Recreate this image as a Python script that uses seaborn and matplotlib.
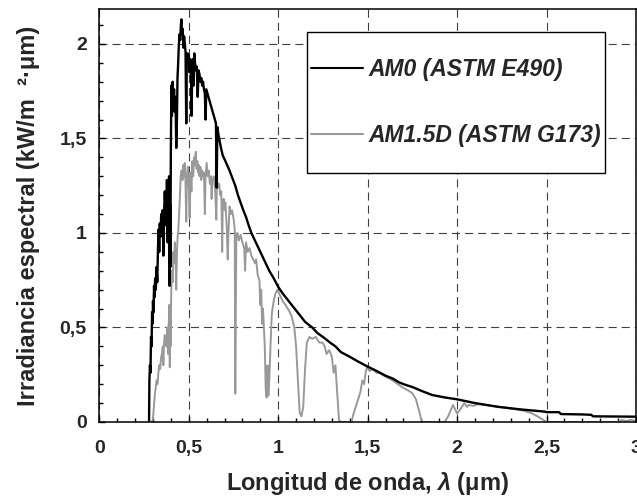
import seaborn as sns
import matplotlib.pyplot as plt
from matplotlib.patches import Rectangle
from matplotlib.ticker import MultipleLocator

# AM0 extraterrestrial spectrum (ASTM E490)
am0_wl = [0.278, 0.280, 0.283, 0.286, 0.289, 0.292, 0.295, 0.298, 0.300, 0.303,
          0.306, 0.309, 0.312, 0.316, 0.320, 0.324, 0.328, 0.332, 0.335, 0.338,
          0.342, 0.346, 0.350, 0.354, 0.358, 0.362, 0.366, 0.370, 0.374, 0.378,
          0.382, 0.386, 0.390, 0.393, 0.395, 0.397, 0.400, 0.403, 0.406, 0.410,
          0.414, 0.418, 0.422, 0.426, 0.430, 0.434, 0.437, 0.440, 0.444, 0.448,
          0.452, 0.456, 0.459, 0.462, 0.466, 0.470, 0.474, 0.478, 0.482, 0.486,
          0.489, 0.493, 0.497, 0.500, 0.504, 0.508, 0.512, 0.516, 0.519, 0.523,
          0.527, 0.531, 0.535, 0.540, 0.545, 0.550, 0.555, 0.560, 0.565, 0.570,
          0.575, 0.580, 0.585, 0.590, 0.594, 0.598, 0.604, 0.610, 0.616, 0.622,
          0.628, 0.634, 0.640, 0.646, 0.652, 0.656, 0.660, 0.666, 0.672, 0.680,
          0.690, 0.700, 0.714, 0.728, 0.744, 0.760, 0.775, 0.790, 0.805, 0.820,
          0.835, 0.850, 0.865, 0.880, 0.895, 0.910, 0.930, 0.950, 0.975, 1.000,
          1.025, 1.050, 1.075, 1.100, 1.125, 1.150, 1.170, 1.190, 1.220, 1.250,
          1.290, 1.320, 1.350, 1.400, 1.450, 1.500, 1.550, 1.600, 1.640, 1.675,
          1.710, 1.750, 1.800, 1.860, 1.930, 2.000, 2.100, 2.230, 2.350, 2.490,
          2.500, 2.570, 2.580, 2.700, 2.750, 2.760, 3.000]
am0_irr = [0.00, 0.22, 0.30, 0.26, 0.45, 0.40, 0.58, 0.52, 0.64, 0.58,
           0.72, 0.66, 0.76, 0.70, 0.82, 0.74, 0.92, 1.02, 0.90, 1.05,
           0.98, 1.10, 1.02, 1.12, 0.88, 1.10, 1.22, 1.12, 1.04, 1.28,
           0.95, 1.18, 1.30, 0.72, 1.15, 0.82, 1.45, 1.78, 1.62, 1.80,
           1.70, 1.76, 1.64, 1.72, 1.45, 1.60, 1.82, 1.88, 1.98, 2.05,
           2.02, 2.10, 2.13, 2.05, 2.08, 1.98, 2.04, 2.00, 1.96, 1.58,
           1.92, 1.95, 1.90, 1.94, 1.85, 1.92, 1.88, 1.62, 1.84, 1.92,
           1.78, 1.95, 1.90, 1.86, 1.88, 1.72, 1.86, 1.84, 1.80, 1.82,
           1.78, 1.80, 1.76, 1.74, 1.60, 1.76, 1.74, 1.72, 1.70, 1.68,
           1.66, 1.64, 1.62, 1.60, 1.58, 1.24, 1.56, 1.52, 1.49, 1.45,
           1.41, 1.39, 1.36, 1.33, 1.29, 1.25, 1.20, 1.16, 1.12, 1.085,
           1.04, 1.00, 0.97, 0.94, 0.91, 0.88, 0.84, 0.80, 0.76, 0.715,
           0.68, 0.65, 0.62, 0.59, 0.56, 0.53, 0.515, 0.50, 0.47, 0.45,
           0.42, 0.40, 0.37, 0.345, 0.318, 0.293, 0.27, 0.245, 0.23, 0.21,
           0.197, 0.185, 0.165, 0.143, 0.13, 0.12, 0.10, 0.08, 0.067, 0.055,
           0.052, 0.052, 0.042, 0.040, 0.038, 0.030, 0.028]

# AM1.5D direct normal spectrum (ASTM G173)
am15d_wl = [0.295, 0.300, 0.305, 0.310, 0.315, 0.320, 0.325, 0.330, 0.335, 0.340,
            0.345, 0.350, 0.355, 0.358, 0.362, 0.366, 0.370, 0.375, 0.380, 0.384,
            0.388, 0.392, 0.394, 0.396, 0.398, 0.402, 0.406, 0.410, 0.414, 0.418,
            0.422, 0.426, 0.430, 0.434, 0.438, 0.442, 0.446, 0.450, 0.455, 0.460,
            0.465, 0.470, 0.475, 0.478, 0.482, 0.486, 0.490, 0.495, 0.500, 0.505,
            0.510, 0.515, 0.520, 0.525, 0.530, 0.535, 0.539, 0.544, 0.548, 0.552,
            0.556, 0.560, 0.565, 0.570, 0.575, 0.580, 0.585, 0.590, 0.594, 0.600,
            0.606, 0.612, 0.618, 0.624, 0.628, 0.632, 0.640, 0.648, 0.654, 0.658,
            0.664, 0.670, 0.676, 0.682, 0.687, 0.690, 0.695, 0.700, 0.705, 0.712,
            0.718, 0.722, 0.728, 0.735, 0.742, 0.750, 0.757, 0.760, 0.763, 0.766,
            0.772, 0.780, 0.790, 0.800, 0.810, 0.815, 0.820, 0.830, 0.840, 0.850,
            0.860, 0.870, 0.877, 0.885, 0.895, 0.900, 0.905, 0.910, 0.915, 0.925,
            0.930, 0.935, 0.940, 0.945, 0.950, 0.955, 0.960, 0.965, 0.975, 0.985,
            0.996, 1.010, 1.025, 1.040, 1.060, 1.075, 1.090, 1.100, 1.110, 1.120,
            1.130, 1.140, 1.150, 1.160, 1.175, 1.190, 1.210, 1.230, 1.247, 1.260,
            1.270, 1.285, 1.300, 1.310, 1.320, 1.330, 1.340, 1.350, 1.410, 1.420,
            1.440, 1.460, 1.470, 1.480, 1.490, 1.497, 1.510, 1.530, 1.550, 1.564,
            1.600, 1.640, 1.675, 1.700, 1.730, 1.750, 1.770, 1.790, 1.800, 1.810,
            1.930, 1.950, 1.977, 2.000, 2.020, 2.040, 2.055, 2.065, 2.090, 2.120,
            2.200, 2.280, 2.325, 2.380, 2.417, 2.450, 2.483, 2.500, 2.900, 2.920,
            2.950, 2.970, 3.000]
am15d_irr = [0.00, 0.02, 0.08, 0.14, 0.18, 0.22, 0.20, 0.26, 0.30, 0.28,
             0.34, 0.36, 0.40, 0.30, 0.42, 0.46, 0.44, 0.40, 0.50, 0.36,
             0.52, 0.62, 0.29, 0.55, 0.40, 0.68, 0.80, 0.74, 0.90, 0.84,
             0.95, 0.88, 0.70, 0.90, 0.98, 1.02, 1.10, 1.18, 1.30, 1.33,
             1.28, 1.36, 1.30, 1.37, 1.26, 1.06, 1.30, 1.35, 1.28, 1.08,
             1.32, 1.22, 1.38, 1.30, 1.40, 1.36, 1.43, 1.34, 1.38, 1.32,
             1.36, 1.30, 1.35, 1.28, 1.33, 1.30, 1.32, 1.10, 1.30, 1.37,
             1.30, 1.33, 1.26, 1.30, 1.18, 1.28, 1.30, 1.22, 1.07, 1.28,
             1.24, 1.26, 1.20, 1.22, 0.90, 1.15, 1.18, 1.12, 1.16, 1.04,
             0.86, 1.00, 1.14, 1.10, 1.12, 1.08, 1.02, 0.15, 0.55, 0.98,
             1.00, 0.96, 0.99, 0.95, 0.92, 0.80, 0.95, 0.90, 0.92, 0.88,
             0.86, 0.84, 0.86, 0.78, 0.75, 0.62, 0.70, 0.52, 0.60, 0.40,
             0.18, 0.13, 0.30, 0.14, 0.22, 0.35, 0.48, 0.58, 0.64, 0.68,
             0.70, 0.67, 0.64, 0.62, 0.59, 0.56, 0.50, 0.40, 0.22, 0.05,
             0.03, 0.08, 0.28, 0.42, 0.45, 0.44, 0.45, 0.42, 0.42, 0.40,
             0.36, 0.38, 0.345, 0.26, 0.30, 0.15, 0.01, 0.00, 0.00, 0.04,
             0.10, 0.16, 0.22, 0.20, 0.27, 0.29, 0.27, 0.28, 0.26, 0.26,
             0.24, 0.22, 0.196, 0.18, 0.165, 0.152, 0.12, 0.05, 0.01, 0.00,
             0.00, 0.03, 0.09, 0.045, 0.07, 0.10, 0.08, 0.09, 0.085, 0.095,
             0.085, 0.075, 0.068, 0.058, 0.046, 0.03, 0.01, 0.00, 0.00, 0.01,
             0.005, 0.012, 0.005]

series_labels = ["AM0 (ASTM E490)", "AM1.5D (ASTM G173)"]
x_ticks = [0, 0.5, 1, 1.5, 2, 2.5, 3]
x_tick_labels = ["0", "0,5", "1", "1,5", "2", "2,5", "3"]
y_ticks = [0, 0.5, 1, 1.5, 2]
y_tick_labels = ["0", "0,5", "1", "1,5", "2"]

sns.set_style("white")
plt.rcParams['font.family'] = ['Liberation Sans', 'DejaVu Sans']
plt.rcParams['font.weight'] = 'bold'
plt.rcParams['mathtext.fontset'] = 'custom'
plt.rcParams['mathtext.rm'] = 'Liberation Sans:bold'
plt.rcParams['mathtext.it'] = 'Liberation Sans:italic:bold'
plt.rcParams['lines.scale_dashes'] = False

fig = plt.figure(figsize=(6.37, 5.01), dpi=100)
ax = fig.add_axes([0.1559, 0.1577, 0.8425, 0.8244])

sns.lineplot(x=am15d_wl, y=am15d_irr, sort=False, estimator=None,
             color='#999999', linewidth=1.4, ax=ax, label=series_labels[1])
sns.lineplot(x=am0_wl, y=am0_irr, sort=False, estimator=None,
             color='black', linewidth=1.7, ax=ax, label=series_labels[0])

ax.set_xlim(0, 3)
ax.set_ylim(0, 2.185)
ax.set_xticks(x_ticks)
ax.set_xticklabels(x_tick_labels)
ax.set_yticks(y_ticks)
ax.set_yticklabels(y_tick_labels)
ax.xaxis.set_minor_locator(MultipleLocator(0.1))
ax.yaxis.set_minor_locator(MultipleLocator(0.1))
ax.tick_params(which='both', direction='in', color='black', width=1,
               bottom=True, left=True, top=False, right=False)
ax.tick_params(which='major', length=4)
ax.tick_params(which='minor', length=3)
ax.tick_params(axis='x', pad=13, labelsize=14)
ax.tick_params(axis='y', pad=9, labelsize=14)

ax.grid(True, which='major', color='#404040', linestyle=(0, (5.8, 3.6)), linewidth=0.8)
ax.set_axisbelow(True)
for s in ax.spines.values():
    s.set_color('black')
    s.set_linewidth(1.1)

ax.set_xlabel("Longitud de onda, $\\lambda$ (μm)", fontsize=17, fontweight='bold', labelpad=9)
ax.set_ylabel("Irradiancia espectral (kW/m  ²·μm)", fontsize=17, fontweight='bold', labelpad=14)

# legend box drawn separately so the padding matches the original
box = Rectangle((0.387, 0.603), 0.555, 0.341, transform=ax.transAxes,
                facecolor='white', edgecolor='black', linewidth=1, zorder=4)
ax.add_patch(box)
handles, labels = ax.get_legend_handles_labels()
leg = ax.legend(handles[::-1], labels[::-1], loc='center', bbox_to_anchor=(0.6645, 0.7735),
                frameon=False, prop={'size': 16.5, 'weight': 'bold', 'style': 'italic'},
                handlelength=2.25, handletextpad=0.25, labelspacing=1.9)
leg.set_zorder(5)
for line in leg.get_lines():
    line.set_linewidth(1.5)

plt.savefig("out.png", dpi=100)
